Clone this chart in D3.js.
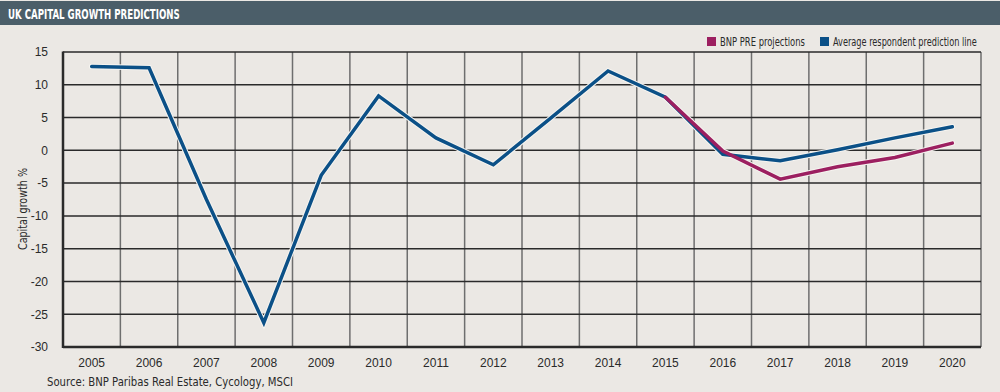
<!DOCTYPE html>
<html><head><meta charset="utf-8">
<script src="https://cdn.jsdelivr.net/npm/d3@7"></script>
<style>
html,body{margin:0;padding:0;background:#ebe8e4;}
svg{display:block;font-family:"Liberation Sans Narrow","DejaVu Sans Condensed","Roboto",sans-serif;font-stretch:condensed;}
</style></head>
<body><svg id="c" width="1000" height="392"></svg>
<script>
const years = ["2005","2006","2007","2008","2009","2010","2011","2012","2013","2014","2015","2016","2017","2018","2019","2020"];
const averageRespondent = [12.8,12.6,-7.5,-26.3,-3.8,8.3,1.9,-2.2,4.9,12.1,8.1,-0.6,-1.6,0.1,1.9,3.6];
const bnpProjYears = ["2015","2016","2017","2018","2019","2020"];
const bnpProjections = [8.1,-0.1,-4.4,-2.5,-1.1,1.1];
const yTicks = [15,10,5,0,-5,-10,-15,-20,-25,-30];

const svg = d3.select("#c");
const W=1000,H=392;
const m={l:63,r:981,t:52,b:347};
svg.append("rect").attr("width",W).attr("height",H).attr("fill","#ebe8e4");
svg.append("rect").attr("x",0).attr("y",1).attr("width",W).attr("height",24).attr("fill","#4b5e69");

// squeeze a text horizontally to a target width with a transform
function fitText(sel, target){
  const n=sel.node(); const len=n.getComputedTextLength();
  const sx=Math.min(1,target/len);
  const tx=+sel.attr("x")||0;
  sel.attr("transform",`translate(${tx*(1-sx)},0) scale(${sx},1)`);
}
fitText(svg.append("text").attr("x",8).attr("y",19).attr("fill","#fff").attr("font-weight","bold").attr("font-size",14.5)
  .text("UK CAPITAL GROWTH PREDICTIONS"),172);

const x=d3.scaleBand().domain(years).range([m.l,m.r]);
const y=d3.scaleLinear().domain([-30,15]).range([m.b,m.t]);

const g=svg.append("g");
years.forEach((yr,i)=>{ if(i>0) g.append("line").attr("x1",x(yr)).attr("x2",x(yr)).attr("y1",m.t).attr("y2",m.b).attr("stroke","#6e6e6e").attr("stroke-width",1.5);});
g.append("line").attr("x1",m.r).attr("x2",m.r).attr("y1",m.t).attr("y2",m.b).attr("stroke","#6e6e6e").attr("stroke-width",1.5);
yTicks.forEach(t=>{ g.append("line").attr("x1",m.l).attr("x2",m.r).attr("y1",y(t)).attr("y2",y(t)).attr("stroke","#2a2a2a").attr("stroke-width",(t===-30)?2.5:1.5);});
g.append("line").attr("x1",m.l).attr("x2",m.l).attr("y1",m.t-0.5).attr("y2",m.b+1).attr("stroke","#2a2a2a").attr("stroke-width",2.5);

const yAxis=d3.axisLeft(y).tickValues(yTicks).tickSize(0).tickPadding(15).tickFormat(d=>String(d));
const ya=svg.append("g").attr("transform",`translate(${m.l},0)`).call(yAxis);
ya.select(".domain").remove();
ya.selectAll("text").attr("font-size",12).attr("fill","#2a2a2a").attr("font-family","inherit");
const xAxis=d3.axisBottom(x).tickSize(0).tickPadding(11);
const xa=svg.append("g").attr("transform",`translate(0,${m.b})`).call(xAxis);
xa.select(".domain").remove();
xa.selectAll("text").attr("font-size",12).attr("fill","#2a2a2a").attr("font-family","inherit");

svg.append("text").attr("transform","translate(27,209) rotate(-90)").attr("text-anchor","middle").attr("font-size",12).attr("fill","#2a2a2a")
  .attr("textLength",82).attr("lengthAdjust","spacingAndGlyphs").text("Capital growth %");
svg.append("text").attr("x",47).attr("y",386).attr("font-size",12).attr("fill","#2a2a2a")
  .attr("textLength",246).attr("lengthAdjust","spacingAndGlyphs").text("Source: BNP Paribas Real Estate, Cycology, MSCI");

const cx=d=>x(d)+x.bandwidth()/2;
const line=d3.line().x(d=>cx(d[0])).y(d=>y(d[1]));
const avg=years.map((d,i)=>[d,averageRespondent[i]]);
const bnp=bnpProjYears.map((d,i)=>[d,bnpProjections[i]]);
[avg,bnp].forEach(data=>{
  svg.append("path").attr("d",line(data)).attr("fill","none").attr("stroke","#f6f4f0").attr("stroke-width",5.5).attr("stroke-linecap","round");
});
svg.append("path").attr("d",line(avg)).attr("fill","none").attr("stroke","#0b5087").attr("stroke-width",3.5).attr("stroke-linecap","round");
svg.append("path").attr("d",line(bnp)).attr("fill","none").attr("stroke","#9c1f60").attr("stroke-width",3.5).attr("stroke-linecap","round");

const leg=[["BNP PRE projections","#9c1f60",707,85],["Average respondent prediction line","#0b5087",820,144]];
leg.forEach(([t,c,lx,len])=>{
  svg.append("rect").attr("x",lx).attr("y",37).attr("width",9).attr("height",9).attr("fill",c);
  fitText(svg.append("text").attr("x",lx+13).attr("y",46).attr("font-size",11.5).attr("fill","#2a2a2a").text(t),len);
});
</script></body></html>
